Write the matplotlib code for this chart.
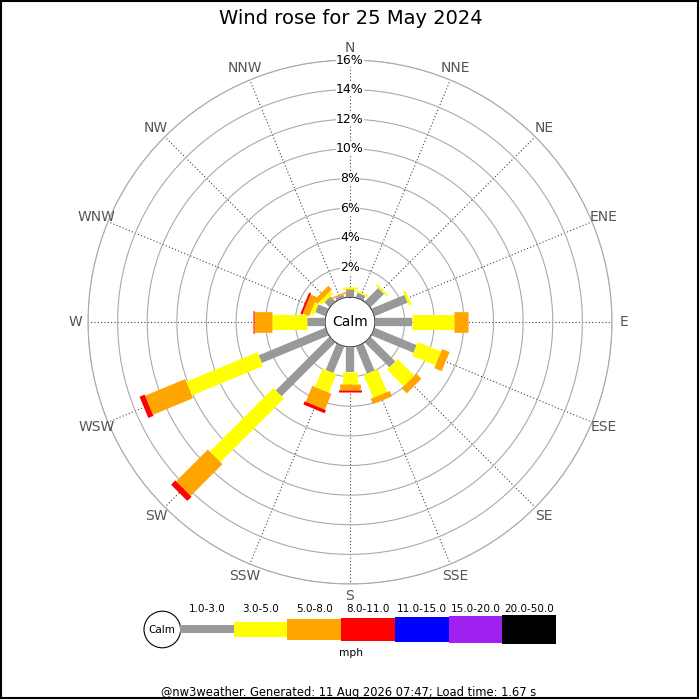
import numpy as np
import matplotlib
matplotlib.use('Agg')
import matplotlib.pyplot as plt
from matplotlib.patches import Rectangle, Circle

# ---------------- data ----------------
directions = ['N', 'NNE', 'NE', 'ENE', 'E', 'ESE', 'SE', 'SSE',
              'S', 'SSW', 'SW', 'WSW', 'W', 'WNW', 'NW', 'NNW']
speed_bands = ['1.0-3.0', '3.0-5.0', '5.0-8.0', '8.0-11.0',
               '11.0-15.0', '15.0-20.0', '20.0-50.0']
band_colors = ['#999999', '#ffff00', '#ffa500', '#ff0000',
               '#0000ff', '#a020f0', '#000000']

pct_1_3 = [0.54, 0.34, 1.28, 2.41, 2.48, 3.07, 2.36, 1.97,
           1.67, 1.93, 5.13, 4.87, 1.24, 0.74, 0.47, 0.20]
pct_3_5 = [0.12, 0.10, 0.13, 0.18, 2.86, 1.69, 1.59, 1.67,
           0.83, 1.34, 6.06, 5.20, 2.32, 0.27, 0.27, 0.00]
pct_5_8 = [0.00, 0.00, 0.00, 0.00, 0.95, 0.54, 0.48, 0.39,
           0.41, 1.16, 3.03, 2.93, 1.22, 0.47, 0.34, 0.10]
pct_8_11 = [0.00, 0.00, 0.00, 0.00, 0.00, 0.00, 0.00, 0.00,
            0.16, 0.23, 0.40, 0.37, 0.11, 0.14, 0.00, 0.00]
pct_11_15 = [0.0] * 16
pct_15_20 = [0.0] * 16
pct_20_50 = [0.0] * 16
band_values = [pct_1_3, pct_3_5, pct_5_8, pct_8_11, pct_11_15, pct_15_20, pct_20_50]

radial_ticks = [2, 4, 6, 8, 10, 12, 14, 16]
title = 'Wind rose for 25 May 2024'
unit_label = 'mph'
footer = '@nw3weather. Generated: 11 Aug 2026 07:47; Load time: 1.67 s'

# ---------------- styling ----------------
band_px = [8.3, 15, 20.7, 23, 25, 27, 28.7]   # bar widths in pixels
PX = 0.72  # points per pixel at 100 dpi

fig = plt.figure(figsize=(7, 7), dpi=100)
fig.patch.set_facecolor('white')

# overlay axes in pixel coordinates for legend / frame
lg = fig.add_axes([0, 0, 1, 1], zorder=0)
lg.set_xlim(0, 700)
lg.set_ylim(700, 0)
lg.axis('off')

# polar axes
R_OUT = 262.0
CALM = 25.0
cx, cy = 350.0, 322.0
ax = fig.add_axes([(cx - R_OUT) / 700, (700 - cy - R_OUT) / 700,
                   2 * R_OUT / 700, 2 * R_OUT / 700],
                  projection='polar', zorder=1)
ax.set_theta_zero_location('N')
ax.set_theta_direction(-1)
rmax = radial_ticks[-1]
scale = (R_OUT - CALM) / rmax
ax.set_rlim(0, rmax)
ax.set_rorigin(-CALM / scale)

theta = np.deg2rad(np.arange(len(directions)) * 360.0 / len(directions))
ax.set_xticks(theta)
ax.set_xticklabels([])
ax.set_yticks(radial_ticks)
ax.set_yticklabels([])
ax.tick_params(length=0)
ax.xaxis.grid(True, linestyle=(0, (1, 2)), color='#444444', linewidth=0.8)
ax.yaxis.grid(True, linestyle='-', color='#aaaaaa', linewidth=0.8)
ax.spines['polar'].set_color('#aaaaaa')
ax.spines['polar'].set_linewidth(0.8)
for name in ('inner', 'start', 'end'):
    if name in ax.spines:
        ax.spines[name].set_visible(False)

# calm disk
circ_t = np.linspace(0, 2 * np.pi, 361)
ax.fill(circ_t, np.zeros_like(circ_t), facecolor='white', edgecolor='none', zorder=2.6)

# bars
for i, th in enumerate(theta):
    start = 0.0
    for b, vals in enumerate(band_values):
        v = vals[i]
        if v > 0:
            ax.plot([th, th], [start, start + v], color=band_colors[b],
                    linewidth=band_px[b] * PX, solid_capstyle='butt', zorder=3)
            start += v

# percentage labels
for r in radial_ticks:
    ax.text(0, r, f'{r}%', ha='center', va='center', fontsize=9,
            color='black', zorder=5,
            bbox=dict(facecolor='white', edgecolor='none', pad=0.2))

# direction labels
for th, name in zip(theta, directions):
    ax.text(th, rmax + 0.84, name, ha='center', va='center', fontsize=10,
            color='#555555', clip_on=False)

ax.text(0.5, 0.5, 'Calm', transform=ax.transAxes, ha='center', va='center',
        fontsize=10, color='black', zorder=6)

# title
fig.text(351 / 700, 1 - 18 / 700, title, ha='center', va='center', fontsize=14)

# legend
lg.add_patch(Circle((162.3, 629.5), 18.3, facecolor='white', edgecolor='black', lw=0.8))
lg.text(162.3, 630, 'Calm', ha='center', va='center', fontsize=7.5)
seg_x0, seg_w, seg_cy = 180.0, 53.7, 629.3
for i, (lab, col) in enumerate(zip(speed_bands, band_colors)):
    h = band_px[i]
    lg.add_patch(Rectangle((seg_x0 + i * seg_w, seg_cy - h / 2), seg_w, h,
                           facecolor=col, edgecolor='none'))
    lg.text(seg_x0 + i * seg_w + seg_w / 2, 609, lab, ha='center', va='center', fontsize=7.5)
lg.text(350.7, 653, unit_label, ha='center', va='center', fontsize=7.7)

lg.text(349, 692.5, footer, ha='center', va='center', fontsize=8.3)

# frame
lg.add_patch(Rectangle((0.75, 0.75), 697.5, 697.5, fill=False, edgecolor='black', lw=1.5))

fig.savefig('out.png', dpi=100)
